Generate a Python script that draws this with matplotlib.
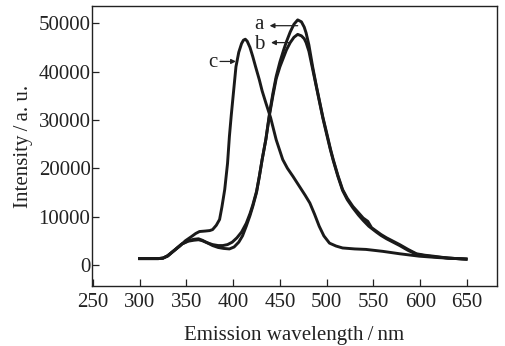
import matplotlib
matplotlib.use('Agg')
import matplotlib.pyplot as plt

plt.rcParams['font.family'] = ['Liberation Serif', 'DejaVu Serif']

# curve c
wl_c = [300, 310, 320, 325, 330, 336, 343, 349, 355, 360, 364, 370, 375, 378, 382, 385.5,
        388, 391, 394, 396, 398, 400, 403, 406, 409, 411, 413, 415, 418, 421, 424, 428,
        431, 435, 440, 446, 453, 458, 464, 471, 477, 482, 487, 492, 497, 503, 510, 517,
        530, 542, 560, 578, 599, 620, 649]
int_c = [1300, 1300, 1300, 1400, 1800, 2800, 3900, 5000, 5800, 6500, 6900, 7000, 7100, 7300, 8200, 9400,
         12000, 15600, 21000, 26600, 31000, 35000, 41000, 44000, 45800, 46500, 46700, 46300, 45000, 43100, 41000, 38300,
         36000, 33500, 30500, 25900, 21800, 20000, 18300, 16200, 14400, 12800, 10500, 8000, 6000, 4500, 3900, 3500,
         3300, 3200, 2800, 2300, 1800, 1500, 1200]

# curve a
wl_a = [300, 310, 320, 325, 330, 337, 345, 352, 358, 363, 367, 372, 378, 384, 390, 396,
        401, 406, 410, 414, 418, 421, 425, 428, 431, 435, 439, 442.5, 446, 450, 454, 457,
        461, 465, 469, 473, 476, 478, 481, 485, 489, 492, 496, 500, 504, 507, 512, 517,
        522, 528, 534, 539, 544, 548, 553, 558, 564, 571, 578, 587, 596, 605, 614, 630, 649]
int_a = [1300, 1300, 1300, 1400, 1900, 3000, 4300, 5000, 5300, 5400, 5100, 4600, 4000, 3600, 3400, 3300,
         3700, 4700, 6000, 8000, 10200, 12100, 15000, 18300, 21800, 26000, 31500, 35500, 39000, 42000, 44500, 46200,
         48200, 49800, 50700, 50300, 49200, 48000, 45500, 41000, 37000, 34200, 30500, 27300, 24000, 21800, 18500, 15600,
         13800, 12100, 10800, 9700, 9000, 7700, 7000, 6300, 5600, 4900, 4200, 3200, 2300, 2000, 1800, 1400, 1200]

# curve b
wl_b = [300, 310, 320, 325, 330, 337, 345, 352, 358, 363, 367, 372, 378, 384, 389, 394,
        399, 404, 409, 414, 418, 421, 425, 428, 431, 435, 439, 442.5, 446, 450, 454, 457,
        461, 465, 469, 473, 476, 478, 481, 485, 489, 492, 496, 500, 504, 507, 512, 517,
        522, 528, 534, 539, 545, 553, 558, 564, 571, 578, 587, 596, 605, 614, 630, 649]
int_b = [1300, 1300, 1300, 1400, 1900, 3000, 4300, 4900, 5100, 5200, 5000, 4600, 4200, 4000, 4000, 4200,
         4700, 5600, 6800, 8600, 10600, 12400, 15200, 18300, 21800, 26000, 31200, 35000, 38500, 41000, 43000, 44500,
         46000, 47100, 47700, 47400, 46800, 46000, 44200, 40500, 36800, 34000, 30300, 27000, 23800, 21600, 18300, 15400,
         13500, 11800, 10300, 9200, 8000, 6800, 6100, 5400, 4700, 4000, 3000, 2200, 1900, 1700, 1400, 1200]

labels = ['a', 'b', 'c']
label_xy = [(428, 49700), (427.5, 45600), (378, 41800)]
arrow_from = [(469, 49500), (460, 46000), (386, 42100)]
arrow_to = [(439, 49500), (440.5, 46000), (403, 42100)]

fig = plt.figure(figsize=(5.05, 3.46), dpi=100)
ax = fig.add_axes([0.182, 0.173, 0.802, 0.81])

for wl, inten in [(wl_a, int_a), (wl_b, int_b), (wl_c, int_c)]:
    ax.plot(wl, inten, color='#1a1a1a', lw=2.1, solid_joinstyle='round')

for lab, (lx, ly), p0, p1 in zip(labels, label_xy, arrow_from, arrow_to):
    ax.text(lx, ly, lab, fontsize=15, ha='center', va='center', color='#222222')
    ax.annotate('', xy=p1, xytext=p0,
                arrowprops=dict(arrowstyle='-|>', color='#222222', lw=0.9,
                                mutation_scale=7, shrinkA=0, shrinkB=0))

ax.set_xlim(249, 682)
ax.set_ylim(-4400, 53600)
ax.set_xticks([250, 300, 350, 400, 450, 500, 550, 600, 650])
ax.set_yticks([0, 10000, 20000, 30000, 40000, 50000])
ax.tick_params(axis='both', direction='in', length=5, width=0.9, labelsize=15, colors='#222222')
ax.tick_params(axis='x', pad=5)
ax.tick_params(axis='y', pad=1)
for s in ax.spines.values():
    s.set_linewidth(1.0)
    s.set_color('#222222')

ax.set_xlabel('Emission wavelength\u2009/\u2009nm', fontsize=15, color='#222222', labelpad=10)
ax.set_ylabel('Intensity\u2009/\u2009a. u.', fontsize=15, color='#222222', labelpad=4)

fig.savefig('out.png', dpi=100)
